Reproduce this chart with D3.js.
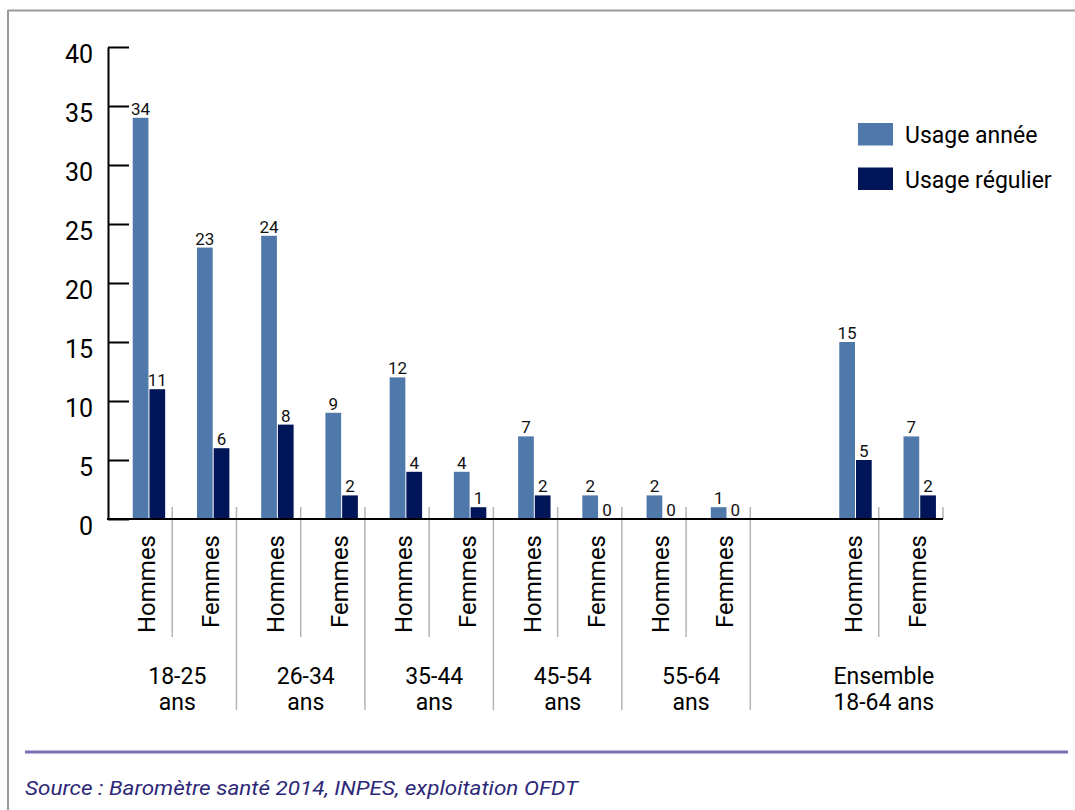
<!DOCTYPE html>
<html><head><meta charset="utf-8">
<script src="https://cdn.jsdelivr.net/npm/d3@7"></script>
<style>
html,body{margin:0;padding:0;background:#fff;}
text{font-family:Roboto,"Noto Sans",sans-serif;}
</style></head>
<body><svg id="c" width="1075" height="810"></svg>
<script>
// ---- data ----
const groups = ["18-25 ans","26-34 ans","35-44 ans","45-54 ans","55-64 ans","","Ensemble 18-64 ans"];
const slots = ["18-25|Hommes","18-25|Femmes","26-34|Hommes","26-34|Femmes","35-44|Hommes","35-44|Femmes",
  "45-54|Hommes","45-54|Femmes","55-64|Hommes","55-64|Femmes","gap","Ens|Hommes","Ens|Femmes"];
const sexLabels = ["Hommes","Femmes","Hommes","Femmes","Hommes","Femmes","Hommes","Femmes","Hommes","Femmes","","Hommes","Femmes"];
const usageAnnee   = [34,23,24,9,12,4,7,2,2,1,null,15,7];
const usageRegulier= [11,6,8,2,4,1,2,0,0,0,null,5,2];
const yTicks = [0,5,10,15,20,25,30,35,40];
const seriesNames = ["Usage année","Usage régulier"];
const groupLabels = [["18-25","ans"],["26-34","ans"],["35-44","ans"],["45-54","ans"],["55-64","ans"],["Ensemble","18-64 ans"]];
const groupSlots = [[0,1],[2,3],[4,5],[6,7],[8,9],[11,12]];
const colors = ["#4f79ab","#011559"];

const svg = d3.select("#c");

// frame
svg.append("line").attr("x1",8).attr("x2",1075).attr("y1",10.5).attr("y2",10.5).attr("stroke","#9a9a9a").attr("stroke-width",2);
svg.append("line").attr("x1",8).attr("x2",8).attr("y1",10).attr("y2",810).attr("stroke","#9a9a9a").attr("stroke-width",2);

const x = d3.scaleBand().domain(slots).range([108,943]).padding(0);
const y = d3.scaleLinear().domain([0,40]).range([519,47]);
const bw = x.bandwidth();
const inner = d3.scaleBand().domain(seriesNames).range([bw*0.385,bw*0.89]).paddingInner(0.06);

// separators
const sepColor = "#b3b3b3";
slots.forEach((s,i)=>{
  if(i===0) return;
  const xs = x(s);
  let bottom = null;
  if([1,3,5,7,9,12].includes(i)) bottom = 637;
  if([2,4,6,8,10].includes(i)) bottom = 710;
  if(bottom) svg.append("line").attr("x1",xs).attr("x2",xs).attr("y1",507).attr("y2",bottom).attr("stroke",sepColor).attr("stroke-width",1.5);
});
svg.append("line").attr("x1",943).attr("x2",943).attr("y1",507).attr("y2",519).attr("stroke",sepColor).attr("stroke-width",1.5);

// bars
const data = slots.map((s,i)=>({s, vals:[usageAnnee[i],usageRegulier[i]]})).filter(d=>d.vals[0]!==null);
data.forEach(d=>{
  d.vals.forEach((v,k)=>{
    const bx = x(d.s)+inner(seriesNames[k]);
    svg.append("rect").attr("x",bx).attr("y",y(v)).attr("width",inner.bandwidth()).attr("height",y(0)-y(v)).attr("fill",colors[k]);
    svg.append("text").attr("x",bx+inner.bandwidth()/2).attr("y",y(v)-3).attr("text-anchor","middle")
      .attr("font-size",17).attr("fill","#111").text(v);
  });
});

// y axis
const yAxis = d3.axisLeft(y).tickValues(yTicks).tickSizeInner(-21).tickSizeOuter(0).tickPadding(15);
const gy = svg.append("g").attr("transform","translate(108,0)").call(yAxis);
gy.select(".domain").attr("stroke","#000").attr("stroke-width",2);
gy.selectAll(".tick line").attr("stroke","#000").attr("stroke-width",2);
gy.selectAll(".tick text").attr("font-size",25).attr("font-family","Roboto,sans-serif").attr("fill","#000").attr("dy","0.62em");

// x axis line
svg.append("line").attr("x1",107).attr("x2",943).attr("y1",519).attr("y2",519).attr("stroke","#000").attr("stroke-width",2);

// sex labels
slots.forEach((s,i)=>{
  if(!sexLabels[i]) return;
  const cx = x(s)+bw*0.61;
  svg.append("text").attr("transform",`translate(${cx},535) rotate(-90)`).attr("text-anchor","end")
    .attr("dominant-baseline","central").attr("font-size",24).attr("fill","#000").text(sexLabels[i]);
});

// group labels
groupSlots.forEach((gs,j)=>{
  const cx = (x(slots[gs[0]])+x(slots[gs[1]]))/2 + bw*0.61 - 2;
  groupLabels[j].forEach((t,l)=>{
    svg.append("text").attr("x",cx).attr("y",684+l*26).attr("text-anchor","middle").attr("font-size",23).attr("fill","#000").text(t);
  });
});

// legend
seriesNames.forEach((n,k)=>{
  svg.append("rect").attr("x",858).attr("y",123+k*44.5).attr("width",35).attr("height",22.5).attr("fill",colors[k]);
  svg.append("text").attr("x",905).attr("y",143+k*45).attr("font-size",23).attr("fill","#000").text(n);
});

// bottom rule and source
svg.append("line").attr("x1",25).attr("x2",1068).attr("y1",752).attr("y2",752).attr("stroke","#7a70b6").attr("stroke-width",3);
svg.append("text").attr("x",25).attr("y",795).attr("font-size",20).attr("font-style","italic").attr("fill","#2e2878")
  .attr("textLength",553).attr("lengthAdjust","spacingAndGlyphs").text("Source : Baromètre santé 2014, INPES, exploitation OFDT");
</script></body></html>
